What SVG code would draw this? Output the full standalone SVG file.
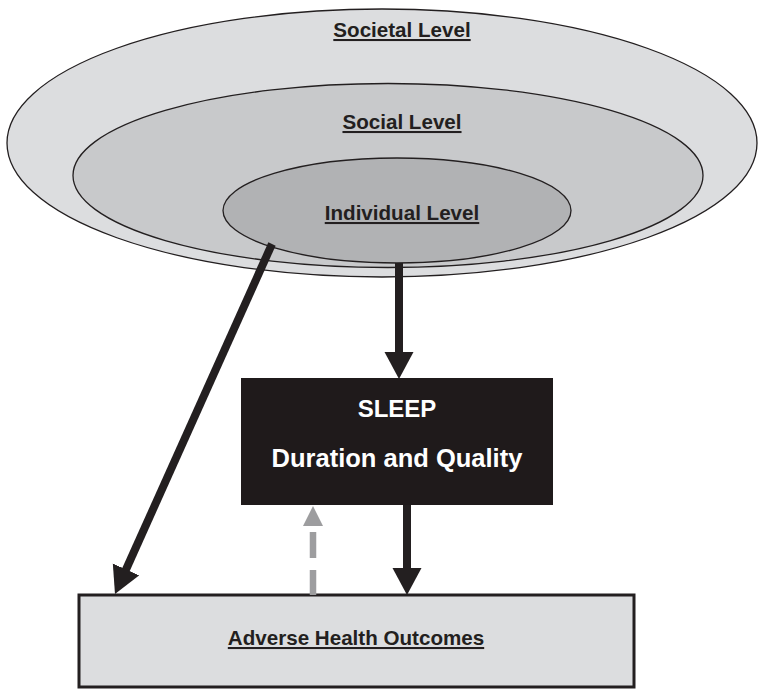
<svg xmlns="http://www.w3.org/2000/svg" width="764" height="697" viewBox="0 0 764 697">
<style>
.lvl{font-family:"Liberation Sans",Arial,sans-serif;font-weight:bold;font-size:20.6px;fill:#231f20;text-anchor:middle;text-decoration:underline}
.sleep{font-family:"Liberation Sans",Arial,sans-serif;font-weight:bold;fill:#ffffff;text-anchor:middle}
.ell{stroke:#231f20;stroke-width:1.3}
.conn{stroke:#231f20;stroke-width:8;fill:none}
</style>
<defs>
<marker id="ah" markerUnits="userSpaceOnUse" markerWidth="30" markerHeight="30" refX="5" refY="14.5" orient="auto" viewBox="0 0 30 30">
<path d="M0,0 L27,14.5 L0,29 z" fill="#231f20"/>
</marker>
</defs>
<rect width="764" height="697" fill="#ffffff"/>
<g id="societal">
<ellipse class="ell" cx="382" cy="143" rx="375" ry="134" fill="#dcdddf"/>
<text class="lvl" x="402" y="37">Societal Level</text>
</g>
<g id="social">
<ellipse class="ell" cx="388" cy="175.5" rx="315" ry="92" fill="#c8c9cb"/>
<text class="lvl" x="402" y="129">Social Level</text>
</g>
<g id="individual">
<ellipse class="ell" cx="397" cy="210.5" rx="174" ry="52.5" fill="#b1b2b4"/>
<text class="lvl" x="402" y="220">Individual Level</text>
</g>
<g id="sleep">
<rect x="241" y="378" width="312" height="127" fill="#1f1a1b"/>
<text class="sleep" x="397" y="417" font-size="24">SLEEP</text>
<text class="sleep" x="397" y="467" font-size="25.5">Duration and Quality</text>
</g>
<g id="outcomes">
<rect x="79" y="595" width="555" height="92" fill="#dcdddf" stroke="#231f20" stroke-width="3"/>
<text class="lvl" x="356" y="645" font-size="18.4">Adverse Health Outcomes</text>
</g>
<g id="connectors">
<line class="conn" x1="272" y1="244" x2="124" y2="574" marker-end="url(#ah)"/>
<line class="conn" x1="399" y1="263" x2="399" y2="357" marker-end="url(#ah)"/>
<line class="conn" x1="407" y1="505" x2="407" y2="573" marker-end="url(#ah)"/>
<line x1="313" y1="595" x2="313" y2="532" stroke="#9d9d9f" stroke-width="6.5" stroke-dasharray="25 12 26"/>
<polygon points="313,506 323,526 303,526" fill="#9d9d9f"/>
</g>
</svg>
